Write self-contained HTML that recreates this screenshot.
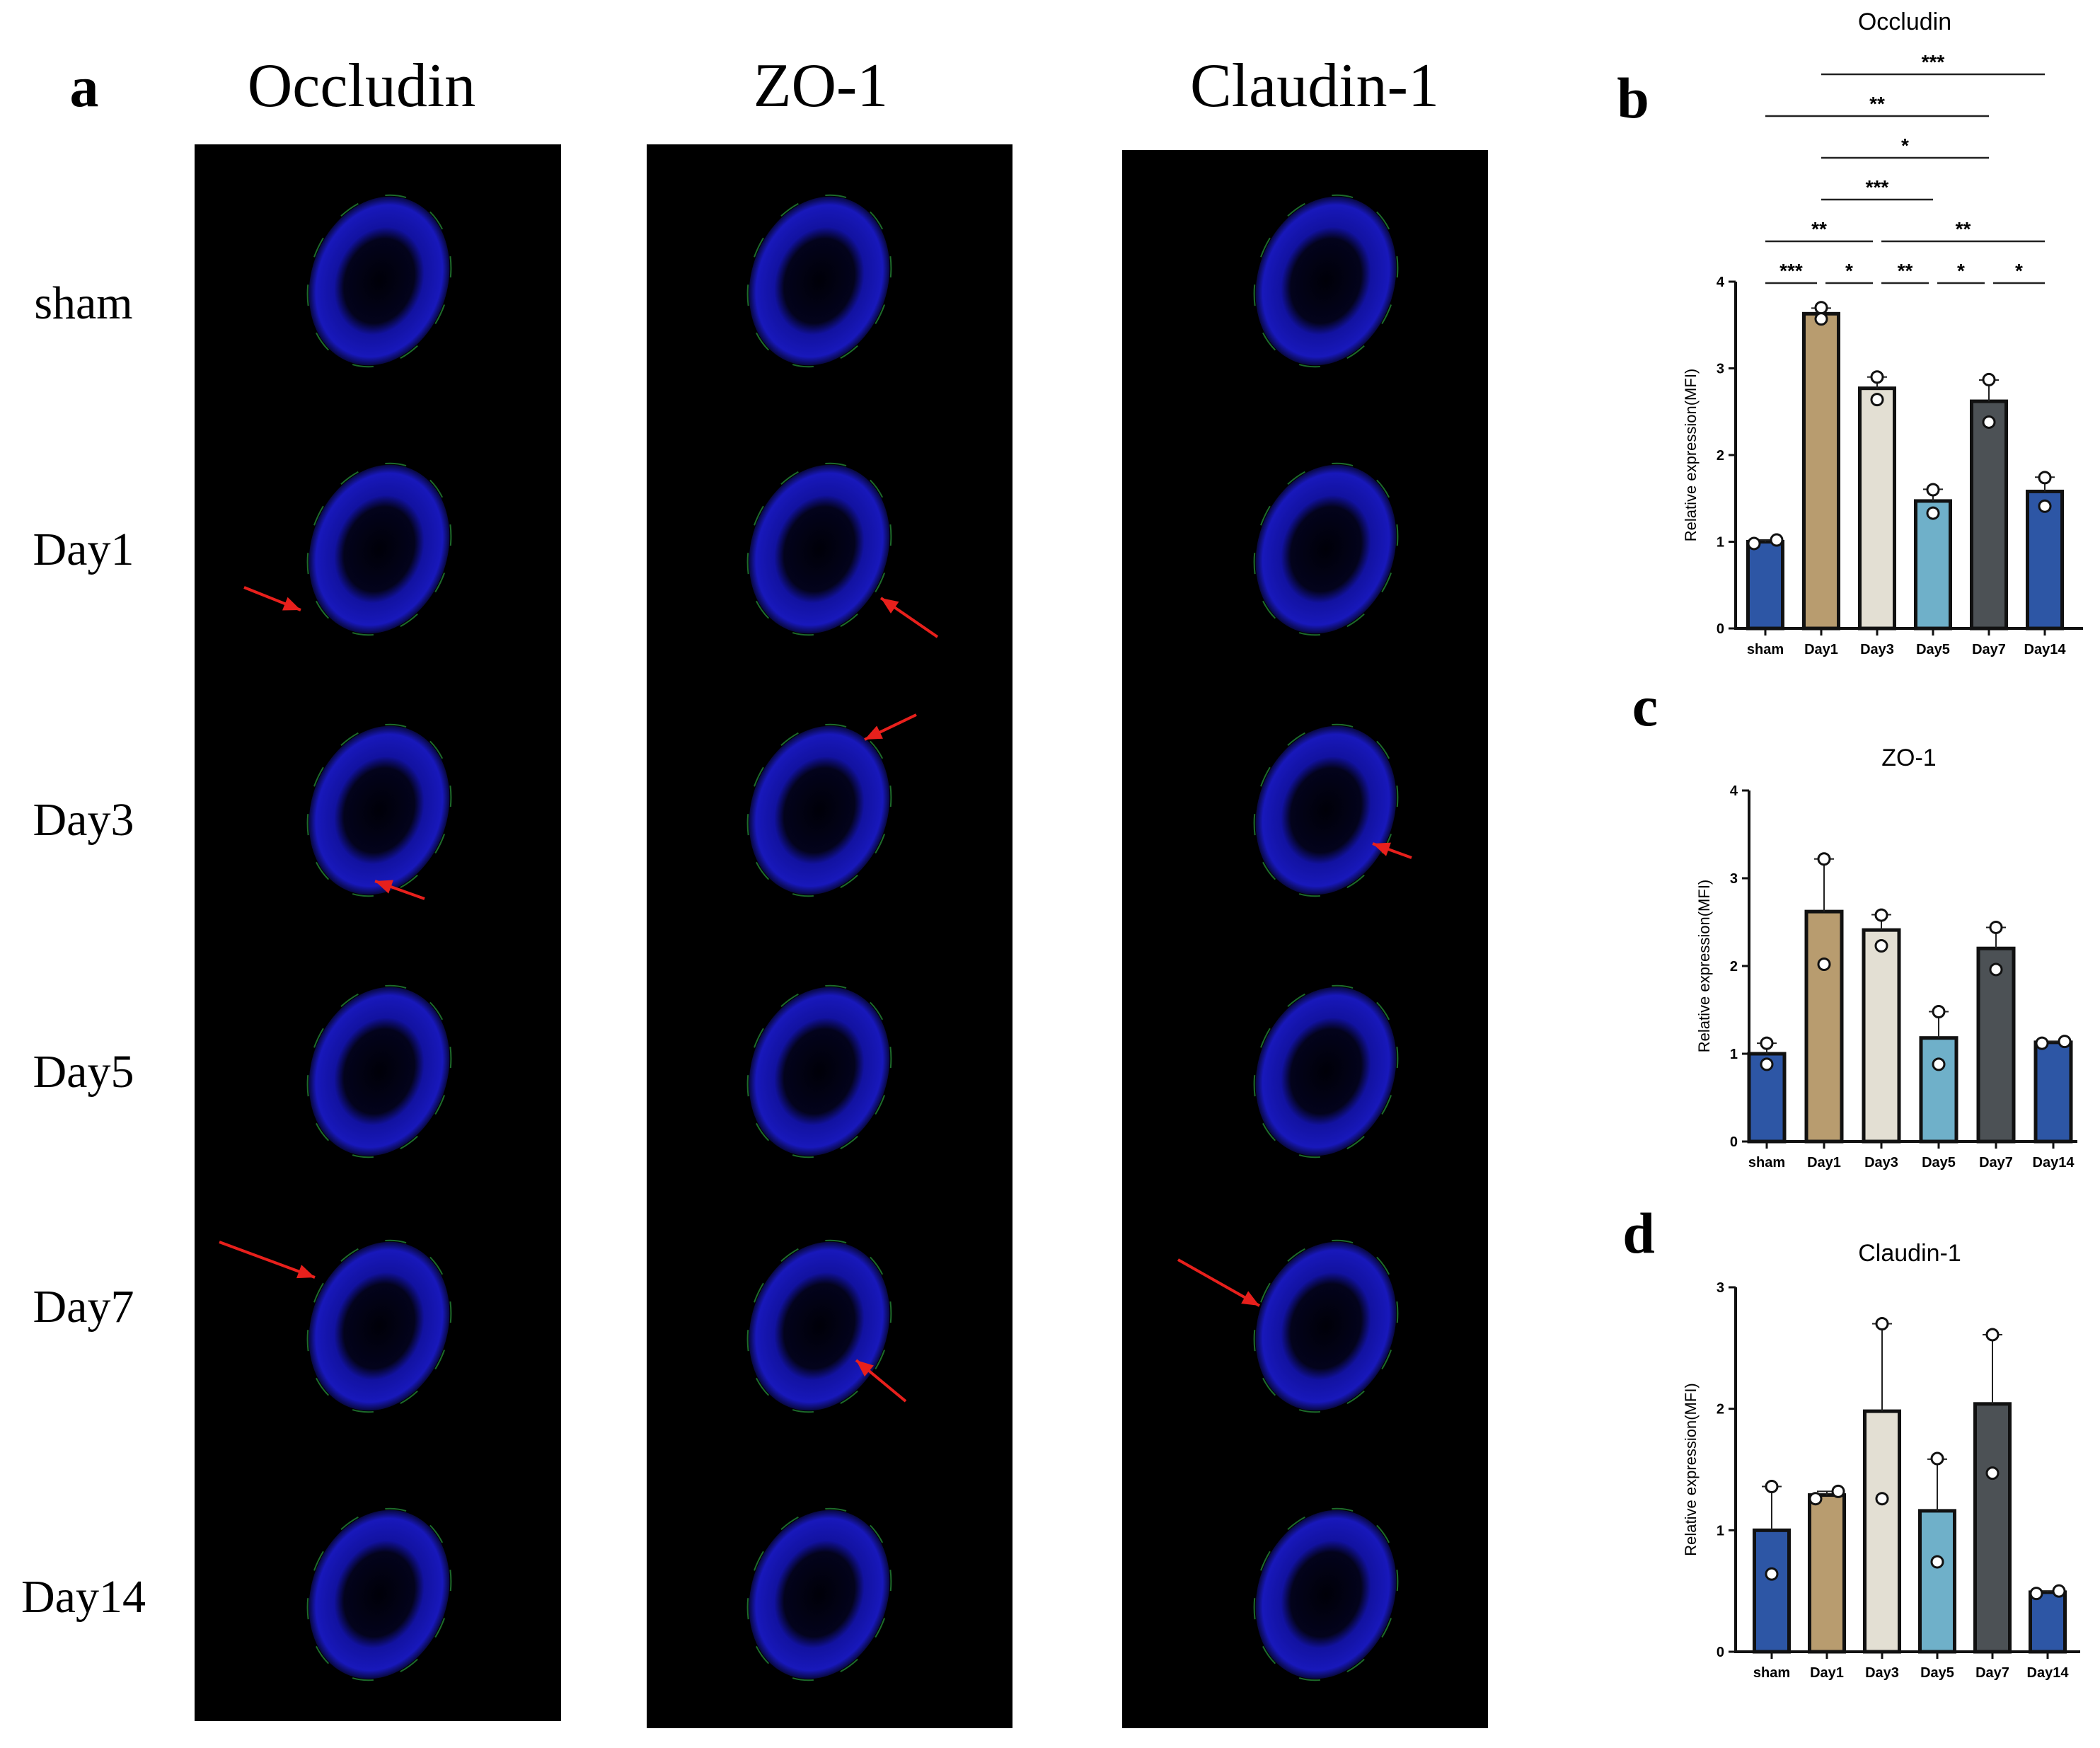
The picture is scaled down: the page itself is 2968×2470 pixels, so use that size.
<!DOCTYPE html>
<html><head><meta charset="utf-8">
<style>
html,body{margin:0;padding:0;background:#fff;}
svg{display:block;}
</style></head>
<body>
<svg id="fig" width="2968" height="2470" viewBox="0 0 2968 2470" xmlns="http://www.w3.org/2000/svg">
<defs>
<radialGradient id="tissue" cx="50%" cy="50%" r="50%">
<stop offset="0%" stop-color="#000008"/>
<stop offset="50%" stop-color="#03031c"/>
<stop offset="64%" stop-color="#1212a0"/>
<stop offset="90%" stop-color="#1818bb"/>
<stop offset="100%" stop-color="#080840"/>
</radialGradient>
</defs>
<g id="panelA"></g>
<g id="charts"></g>
</svg>
<script>
const NS='http://www.w3.org/2000/svg';
function mk(tag,attrs,parent,text){const e=document.createElementNS(NS,tag);for(const k in attrs)e.setAttribute(k,attrs[k]);if(text!==undefined)e.textContent=text;parent.appendChild(e);return e;}

// ---------- Panel a: micrographs ----------
const A=document.getElementById('panelA');
const colNames=['Occludin','ZO-1','Claudin-1'];
const rowNames=['sham','Day1','Day3','Day5','Day7','Day14'];
const colX=[[275,793],[914,1431],[1586,2103]];
const colTop=[204,204,212];
const colBot=[2432,2442,2442];
const colHeadX=[511,1160,1858];
const rowCY=[397,776,1145,1514,1874,2253];
const rowLabelY=[428,776,1158,1514,1846,2256];
const tissueCX=[536,1158,1874];

let lbl=mk('text',{x:119,y:150,'font-family':'Liberation Serif, serif','font-size':82,'font-weight':'bold','text-anchor':'middle'},A,'a');

colNames.forEach((n,i)=>{
  const t=mk('text',{x:colHeadX[i],y:150,'font-family':'Liberation Serif, serif','font-size':88,'text-anchor':'middle'},A,n);
  
  
  const r=mk('rect',{x:colX[i][0],y:colTop[i],width:colX[i][1]-colX[i][0],height:colBot[i]-colTop[i],fill:'#000'},A);
  
  
  rowCY.forEach((cy,j)=>{
    const e=mk('ellipse',{cx:tissueCX[i],cy:cy,rx:96,ry:122,fill:'url(#tissue)',transform:'rotate(20 '+tissueCX[i]+' '+cy+')'},A);
    
    
    const g=mk('ellipse',{cx:tissueCX[i],cy:cy,rx:98,ry:124,fill:'none',stroke:'#1d6a2a','stroke-width':2,'stroke-dasharray':'30 40',transform:'rotate(20 '+tissueCX[i]+' '+cy+')'},A);
    
    
  });
});
rowNames.forEach((n,j)=>{
  const t=mk('text',{x:118,y:rowLabelY[j]+22,'font-family':'Liberation Serif, serif','font-size':66,'text-anchor':'middle'},A,n);
  
  
});
const arrows=[[345,830,425,862],[1325,900,1245,845],[600,1270,530,1245],[1295,1010,1222,1045],[1995,1212,1940,1192],[310,1755,445,1805],[1280,1980,1210,1922],[1665,1780,1780,1845]];
arrows.forEach(a=>{
  const l=mk('line',{x1:a[0],y1:a[1],x2:a[2],y2:a[3],stroke:'#e8201c','stroke-width':4},A);
  
  
  const ang=Math.atan2(a[3]-a[1],a[2]-a[0]);
  const p=[[a[2],a[3]],[a[2]-26*Math.cos(ang-0.4),a[3]-26*Math.sin(ang-0.4)],[a[2]-26*Math.cos(ang+0.4),a[3]-26*Math.sin(ang+0.4)]];
  const h=mk('polygon',{points:p.map(q=>q.join(',')).join(' '),fill:'#e8201c'},A);
  
  
});

// ---------- Charts data ----------
const categories=['sham','Day1','Day3','Day5','Day7','Day14'];
const barColors=['#2d56a5','#b89c6f','#e3dfd3','#6fb0c9','#4c5155','#2d56a5'];
const occludinMeans=[1.0,3.63,2.77,1.47,2.62,1.58];
const occludinPts1=[0.98,3.70,2.90,1.60,2.87,1.74];
const occludinPts2=[1.02,3.57,2.64,1.33,2.38,1.41];
const occludinTicks=[0,1,2,3,4];
const zo1Means=[1.0,2.62,2.41,1.18,2.20,1.13];
const zo1Pts1=[1.12,3.22,2.58,1.48,2.44,1.12];
const zo1Pts2=[0.88,2.02,2.23,0.88,1.96,1.14];
const zo1Ticks=[0,1,2,3,4];
const claudinMeans=[1.0,1.29,1.98,1.16,2.04,0.49];
const claudinPts1=[1.36,1.26,2.70,1.59,2.61,0.48];
const claudinPts2=[0.64,1.32,1.26,0.74,1.47,0.50];
const claudinTicks=[0,1,2,3];
const sigFrom=[0,1,2,3,4,0,2,1,1,0,1];
const sigTo=[1,2,3,4,5,2,5,3,4,4,5];
const sigRow=[0,0,0,0,0,1,1,2,3,4,5];
const sigLabel=['***','*','**','*','*','**','**','***','*','**','***'];

const C=document.getElementById('charts');
function chart(cfg){
  const g=mk('g',{},C);
  
  
  const ymax=cfg.ticks[cfg.ticks.length-1];
  const ys=v=>cfg.y0-(v/ymax)*(cfg.y0-cfg.yTop);
  const xs=i=>cfg.x0+cfg.off+i*cfg.step;
  const bw=cfg.bw;
  const t=mk('text',{x:cfg.titleX,y:cfg.titleY,'font-family':'Liberation Sans, sans-serif','font-size':34,'text-anchor':'middle'},g,cfg.title);
  
  const pl=mk('text',{x:cfg.lblX,y:cfg.lblY,'font-family':'Liberation Serif, serif','font-size':82,'font-weight':'bold','text-anchor':'middle'},g,cfg.letter);
  
  cfg.means.forEach((m,i)=>{
    const b=mk('rect',{x:xs(i)-bw/2,y:ys(m),width:bw,height:cfg.y0-ys(m),fill:barColors[i],stroke:'#111','stroke-width':5},g);
    
    
  });
  cfg.means.forEach((m,i)=>{
    const sd=Math.abs(cfg.p1[i]-cfg.p2[i])/2;
    const top=m+sd;
    const l=mk('line',{x1:xs(i),y1:ys(m),x2:xs(i),y2:ys(top),stroke:'#222','stroke-width':2},g);
    
    const cap=mk('line',{x1:xs(i)-14,y1:ys(top),x2:xs(i)+14,y2:ys(top),stroke:'#222','stroke-width':2},g);
    
    [cfg.p1[i],cfg.p2[i]].forEach((p,k)=>{
      const dx=Math.abs(cfg.p1[i]-cfg.p2[i])<0.08?(k?16:-16):0;
      const c=mk('circle',{cx:xs(i)+dx,cy:ys(p),r:8,fill:'#fff',stroke:'#111','stroke-width':3},g);
      
    });
  });
  const ya=mk('line',{x1:cfg.x0,y1:cfg.yTop,x2:cfg.x0,y2:cfg.y0+2,stroke:'#111','stroke-width':4},g);
  
  const xa=mk('line',{x1:cfg.x0-2,y1:cfg.y0,x2:cfg.xEnd,y2:cfg.y0,stroke:'#111','stroke-width':4},g);
  
  cfg.ticks.forEach(v=>{
    const tk=mk('line',{x1:cfg.x0-10,y1:ys(v),x2:cfg.x0,y2:ys(v),stroke:'#111','stroke-width':3},g);
    
    const tl=mk('text',{x:cfg.x0-16,y:ys(v)+7,'font-family':'Liberation Sans, sans-serif','font-size':20,'font-weight':'bold','text-anchor':'end'},g,String(v));
    
  });
  categories.forEach((c,i)=>{
    const tk=mk('line',{x1:xs(i),y1:cfg.y0,x2:xs(i),y2:cfg.y0+10,stroke:'#111','stroke-width':3},g);
    
    const tl=mk('text',{x:xs(i),y:cfg.y0+36,'font-family':'Liberation Sans, sans-serif','font-size':20,'font-weight':'bold','text-anchor':'middle'},g,c);
    
  });
  const yt=mk('text',{x:0,y:0,'font-family':'Liberation Sans, sans-serif','font-size':22,'text-anchor':'middle',transform:'translate('+(cfg.x0-56)+','+((cfg.y0+cfg.yTop)/2)+') rotate(-90)'},g,'Relative expression(MFI)');
  
  if(cfg.sig){
    sigFrom.forEach((f,k)=>{
      const y=cfg.sigY0-sigRow[k]*cfg.sigStep;
      const ins=sigRow[k]<=1?6:0;
      const x1=xs(f)+(f>0?ins:0), x2=xs(sigTo[k])-(sigTo[k]<5?ins:0);
      const l=mk('line',{x1:x1,y1:y,x2:x2,y2:y,stroke:'#222','stroke-width':2.5},g);
      
      const s=mk('text',{x:(x1+x2)/2,y:y-8,'font-family':'Liberation Sans, sans-serif','font-size':28,'font-weight':'bold','text-anchor':'middle'},g,sigLabel[k]);
      
    });
  }
}
chart({name:'occludin-chart',title:'Occludin',letter:'b',lblX:2308,lblY:166,titleX:2692,titleY:42,x0:2453,y0:888,yTop:398,xEnd:2944,off:42,step:79,bw:49,ticks:occludinTicks,means:occludinMeans,p1:occludinPts1,p2:occludinPts2,sig:true,sigY0:400,sigStep:59});
chart({name:'zo1-chart',title:'ZO-1',letter:'c',lblX:2325,lblY:1025,titleX:2698,titleY:1082,x0:2472,y0:1613,yTop:1117,xEnd:2936,off:25,step:81,bw:50,ticks:zo1Ticks,means:zo1Means,p1:zo1Pts1,p2:zo1Pts2,sig:false});
chart({name:'claudin1-chart',title:'Claudin-1',letter:'d',lblX:2316,lblY:1770,titleX:2699,titleY:1782,x0:2453,y0:2334,yTop:1819,xEnd:2940,off:51,step:78,bw:49,ticks:claudinTicks,means:claudinMeans,p1:claudinPts1,p2:claudinPts2,sig:false});
</script>
</body></html>
